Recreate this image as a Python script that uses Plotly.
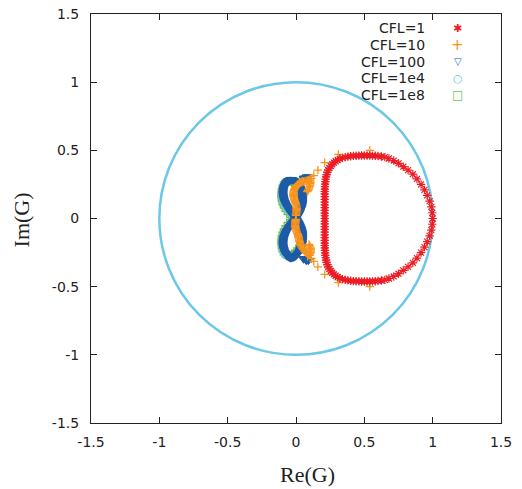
import plotly.graph_objects as go

# ---------------- data ----------------
red_re = [1.0, 0.997, 0.99, 0.978, 0.96, 0.94, 0.915, 0.885, 0.855, 0.82, 0.785, 0.75, 0.715, 0.68, 0.65, 0.625,
          0.60, 0.58, 0.56, 0.54, 0.52, 0.50, 0.48, 0.46, 0.44, 0.42, 0.40, 0.38, 0.36, 0.34, 0.32, 0.305,
          0.29, 0.277, 0.265, 0.254, 0.244, 0.236, 0.229, 0.224, 0.22, 0.217, 0.215, 0.213, 0.212, 0.211,
          0.21, 0.21, 0.21, 0.21, 0.21, 0.21, 0.21, 0.21, 0.21, 0.21, 0.21,
          0.21, 0.21, 0.21, 0.21, 0.21, 0.21, 0.21, 0.21, 0.21, 0.21,
          0.211, 0.212, 0.213, 0.215, 0.217, 0.22, 0.224, 0.229, 0.236, 0.244, 0.254, 0.265, 0.277, 0.29,
          0.305, 0.32, 0.34, 0.36, 0.38, 0.40, 0.42, 0.44, 0.46, 0.48, 0.50, 0.52, 0.54, 0.56, 0.58, 0.60,
          0.625, 0.65, 0.68, 0.715, 0.75, 0.785, 0.82, 0.855, 0.885, 0.915, 0.94, 0.96, 0.978, 0.99, 0.997]
red_im = [0.0, 0.042, 0.085, 0.127, 0.17, 0.21, 0.25, 0.29, 0.325, 0.355, 0.38, 0.405, 0.425, 0.44, 0.45, 0.455,
          0.458, 0.46, 0.461, 0.462, 0.462, 0.462, 0.462, 0.461, 0.46, 0.459, 0.457, 0.454, 0.45, 0.445, 0.438, 0.43,
          0.42, 0.41, 0.398, 0.385, 0.37, 0.355, 0.339, 0.322, 0.305, 0.288, 0.27, 0.252, 0.234, 0.216,
          0.198, 0.18, 0.16, 0.14, 0.12, 0.10, 0.08, 0.06, 0.04, 0.02, 0.0,
          -0.02, -0.04, -0.06, -0.08, -0.10, -0.12, -0.14, -0.16, -0.18, -0.198,
          -0.216, -0.234, -0.252, -0.27, -0.288, -0.305, -0.322, -0.339, -0.355, -0.37, -0.385, -0.398, -0.41, -0.42,
          -0.43, -0.438, -0.445, -0.45, -0.454, -0.457, -0.459, -0.46, -0.461, -0.462, -0.462, -0.462, -0.462, -0.461, -0.46, -0.458,
          -0.455, -0.45, -0.44, -0.425, -0.405, -0.38, -0.355, -0.325, -0.29, -0.25, -0.21, -0.17, -0.127, -0.085, -0.042]

orange_re = [0.54, 0.31, 0.21, 0.16, 0.13, 0.112,
             0.098, 0.09, 0.082, 0.074, 0.066, 0.058, 0.05, 0.042, 0.034, 0.027, 0.02, 0.013, 0.007, 0.001,
             -0.004, -0.008, -0.012, -0.015, -0.018, -0.019, -0.02, -0.019, -0.018, -0.016, -0.013, -0.01,
             -0.007, -0.004, -0.002, 0.0, 0.002, 0.003, 0.004, 0.004, 0.004, 0.003, 0.002, 0.001, 0.0,
             0.105, 0.105, 0.104, 0.102, 0.1, 0.097, 0.093, 0.088, 0.083,
             -0.002, -0.003, -0.004, -0.005, -0.006, -0.006, -0.005, -0.004, -0.002, 0.0, 0.003, 0.006,
             0.01, 0.013, 0.016, 0.018, 0.02, 0.022, 0.024, 0.026, 0.029, 0.032, 0.037, 0.042,
             0.048, 0.055, 0.062, 0.07, 0.078, 0.085, 0.093, 0.1,
             0.104, 0.106, 0.108, 0.108, 0.107, 0.104, 0.1, 0.095,
             0.112, 0.13, 0.16, 0.21, 0.31, 0.54]
orange_im = [0.50, 0.47, 0.41, 0.355, 0.315, 0.295,
             0.284, 0.281, 0.278, 0.276, 0.274, 0.272, 0.27, 0.267, 0.264, 0.26, 0.255, 0.249, 0.243, 0.236,
             0.229, 0.221, 0.213, 0.205, 0.196, 0.187, 0.178, 0.169, 0.16, 0.151, 0.143, 0.134,
             0.126, 0.117, 0.109, 0.1, 0.092, 0.083, 0.075, 0.066, 0.058, 0.049, 0.041, 0.032, 0.024,
             0.275, 0.265, 0.255, 0.245, 0.235, 0.225, 0.215, 0.207, 0.198,
             -0.007, -0.016, -0.024, -0.033, -0.041, -0.05, -0.058, -0.067, -0.075, -0.084, -0.092, -0.1,
             -0.109, -0.117, -0.126, -0.134, -0.143, -0.151, -0.16, -0.169, -0.178, -0.189, -0.2, -0.21,
             -0.22, -0.23, -0.24, -0.248, -0.255, -0.26, -0.265, -0.27,
             -0.26, -0.25, -0.24, -0.23, -0.22, -0.21, -0.2, -0.19,
             -0.295, -0.315, -0.355, -0.41, -0.47, -0.50]

blue_re = [0.0, 0.008, 0.015, 0.022, 0.028, 0.033, 0.038, 0.042, 0.045, 0.047, 0.048, 0.048, 0.048, 0.047, 0.046,
           0.043, 0.04, 0.036, 0.031, 0.026, 0.02, 0.013, 0.005, -0.003, -0.012, -0.021, -0.03, -0.039,
           -0.048, -0.056, -0.064, -0.071, -0.077, -0.082, -0.087, -0.09, -0.093, -0.094, -0.095, -0.094,
           -0.093, -0.09, -0.087, -0.082, -0.077, -0.071, -0.064, -0.056, -0.048, -0.039, -0.03, -0.021, -0.013, -0.006,
           0.055, 0.075, 0.09,
           0.008, 0.015, 0.022, 0.028, 0.033, 0.038, 0.042, 0.045, 0.047, 0.048, 0.048, 0.048, 0.047, 0.046,
           0.043, 0.04, 0.036, 0.031, 0.026, 0.02, 0.013, 0.005, -0.003, -0.012, -0.021, -0.03, -0.039,
           -0.048, -0.056, -0.064, -0.071, -0.077, -0.082, -0.087, -0.09, -0.093, -0.094, -0.095, -0.094,
           -0.093, -0.09, -0.087, -0.082, -0.077, -0.071, -0.064, -0.056, -0.048, -0.039, -0.03, -0.021, -0.013, -0.006,
           0.055, 0.075, 0.09]
blue_im = [0.0, 0.012, 0.025, 0.037, 0.05, 0.062, 0.075, 0.087, 0.1, 0.112, 0.125, 0.137, 0.15, 0.162, 0.175,
           0.187, 0.2, 0.212, 0.225, 0.236, 0.247, 0.256, 0.265, 0.272, 0.278, 0.282, 0.285, 0.285,
           0.283, 0.278, 0.272, 0.264, 0.255, 0.245, 0.233, 0.222, 0.21, 0.197, 0.185, 0.172,
           0.16, 0.147, 0.135, 0.122, 0.11, 0.097, 0.085, 0.072, 0.06, 0.047, 0.035, 0.025, 0.015, 0.007,
           0.295, 0.305, 0.305,
           -0.012, -0.025, -0.037, -0.05, -0.062, -0.075, -0.087, -0.1, -0.112, -0.125, -0.137, -0.15, -0.162, -0.175,
           -0.187, -0.2, -0.212, -0.225, -0.236, -0.247, -0.256, -0.265, -0.272, -0.278, -0.282, -0.285, -0.285,
           -0.283, -0.278, -0.272, -0.264, -0.255, -0.245, -0.233, -0.222, -0.21, -0.197, -0.185, -0.172,
           -0.16, -0.147, -0.135, -0.122, -0.11, -0.097, -0.085, -0.072, -0.06, -0.047, -0.035, -0.025, -0.015, -0.007,
           -0.295, -0.305, -0.305]

cyan_re = [-0.008, 0.008, 0.022, 0.033, 0.04, 0.043, 0.043, 0.04, 0.034, 0.025, 0.012, -0.004, -0.022, -0.041,
           -0.06, -0.076, -0.089, -0.099, -0.105, -0.107, -0.105, -0.099, -0.089, -0.076, -0.06, -0.041, -0.023,
           0.008, 0.022, 0.033, 0.04, 0.043, 0.043, 0.04, 0.034, 0.025, 0.012, -0.004, -0.022, -0.041,
           -0.06, -0.076, -0.089, -0.099, -0.105, -0.107, -0.105, -0.099, -0.089, -0.076, -0.06, -0.041, -0.023]
cyan_im = [0.0, 0.025, 0.05, 0.075, 0.1, 0.125, 0.15, 0.175, 0.2, 0.225, 0.247, 0.264, 0.276, 0.282,
           0.28, 0.27, 0.254, 0.232, 0.208, 0.183, 0.158, 0.133, 0.108, 0.083, 0.058, 0.034, 0.014,
           -0.025, -0.05, -0.075, -0.1, -0.125, -0.15, -0.175, -0.2, -0.225, -0.247, -0.264, -0.276, -0.282,
           -0.28, -0.27, -0.254, -0.232, -0.208, -0.183, -0.158, -0.133, -0.108, -0.083, -0.058, -0.034, -0.014]

green_re = [-0.012, 0.003, 0.017, 0.027, 0.034, 0.037, 0.037, 0.034, 0.028, 0.019, 0.006, -0.01, -0.028, -0.046,
            -0.064, -0.08, -0.093, -0.102, -0.108, -0.11, -0.108, -0.102, -0.093, -0.08, -0.064, -0.046, -0.028,
            0.003, 0.017, 0.027, 0.034, 0.037, 0.037, 0.034, 0.028, 0.019, 0.006, -0.01, -0.028, -0.046,
            -0.064, -0.08, -0.093, -0.102, -0.108, -0.11, -0.108, -0.102, -0.093, -0.08, -0.064, -0.046, -0.028]
green_im = [0.0, 0.022, 0.046, 0.07, 0.095, 0.12, 0.145, 0.17, 0.195, 0.218, 0.238, 0.255, 0.266, 0.272,
            0.27, 0.26, 0.244, 0.222, 0.198, 0.173, 0.148, 0.123, 0.098, 0.074, 0.05, 0.028, 0.01,
            -0.022, -0.046, -0.07, -0.095, -0.12, -0.145, -0.17, -0.195, -0.218, -0.238, -0.255, -0.266, -0.272,
            -0.27, -0.26, -0.244, -0.222, -0.198, -0.173, -0.148, -0.123, -0.098, -0.074, -0.05, -0.028, -0.01]

series_names = ["CFL=1", "CFL=10", "CFL=100", "CFL=1e4", "CFL=1e8"]
tick_vals = [-1.5, -1.0, -0.5, 0.0, 0.5, 1.0, 1.5]
tick_text = ["-1.5", "-1", "-0.5", "0", "0.5", "1", "1.5"]
unit_radius = 1.0

# ---------------- styles ----------------
RED = "#ED1C24"
ORANGE = "#F7941E"
BLUE = "#1F5AA6"
CYAN = "#5FC6E0"
GREEN = "#6CC04A"
CIRCLE = "#6CC7E8"

fig = go.Figure()

def add(x, y, name, symbol, color, size, lw):
    fig.add_trace(go.Scatter(
        x=x, y=y, mode="markers", name=name, showlegend=False,
        marker=dict(symbol=symbol, size=size, color=color,
                    line=dict(color=color, width=lw)),
    ))

add(green_re, green_im, series_names[4], "square-open", GREEN, 6, 1.3)
add(cyan_re, cyan_im, series_names[3], "circle-open", CYAN, 6, 1.3)
add(blue_re, blue_im, series_names[2], "triangle-down-open", BLUE, 7, 1.9)
add(orange_re, orange_im, series_names[1], "cross-thin-open", ORANGE, 6, 1.3)
add(red_re, red_im, series_names[0], "asterisk-open", RED, 7, 1.2)

fig.add_shape(type="circle", xref="x", yref="y",
              x0=-unit_radius, y0=-unit_radius, x1=unit_radius, y1=unit_radius,
              line=dict(color=CIRCLE, width=2.5), layer="below")

axis_common = dict(
    range=[-1.5, 1.5], tickvals=tick_vals, ticktext=tick_text, automargin=False,
    showgrid=False, zeroline=False, showline=True, linecolor="#222", linewidth=1,
    mirror="ticks", ticks="inside", ticklen=6, tickwidth=1, tickcolor="#222",
    tickfont=dict(family="DejaVu Sans", size=14, color="#222"),
)
fig.update_xaxes(**axis_common, ticklabelstandoff=6)
fig.update_yaxes(**axis_common, ticklabelstandoff=8)

# axis titles
fig.add_annotation(text="Re(G)", xref="paper", yref="paper", x=0.527, y=-0.125,
                   showarrow=False, xanchor="center", yanchor="middle",
                   font=dict(family="Liberation Serif", size=22, color="#222"))
fig.add_annotation(text="Im(G)", xref="paper", yref="paper", x=-0.17, y=0.496,
                   showarrow=False, xanchor="center", yanchor="middle", textangle=-90,
                   font=dict(family="Liberation Serif", size=22, color="#222"))

# legend (text right-aligned, key symbol to the right, like the original)
legend_y = [0.965, 0.924, 0.883, 0.843, 0.802]
legend_glyph = ["✱", "+", "▽", "○", "□"]
legend_color = [RED, ORANGE, BLUE, CYAN, GREEN]
legend_size = [11, 15, 10, 11, 12]
for name, yy, g, c, s in zip(series_names, legend_y, legend_glyph, legend_color, legend_size):
    fig.add_annotation(text=name, xref="paper", yref="paper", x=0.82, y=yy,
                       showarrow=False, xanchor="right", yanchor="middle",
                       font=dict(family="DejaVu Sans", size=14, color="#222"))
    fig.add_annotation(text=g, xref="paper", yref="paper", x=0.895, y=yy,
                       showarrow=False, xanchor="center", yanchor="middle",
                       font=dict(family="DejaVu Sans", size=s, color=c))

fig.update_layout(
    width=522, height=489,
    margin=dict(l=91, r=21, t=14, b=66),
    paper_bgcolor="white", plot_bgcolor="white",
    showlegend=False,
)

fig.write_html("out.html")
